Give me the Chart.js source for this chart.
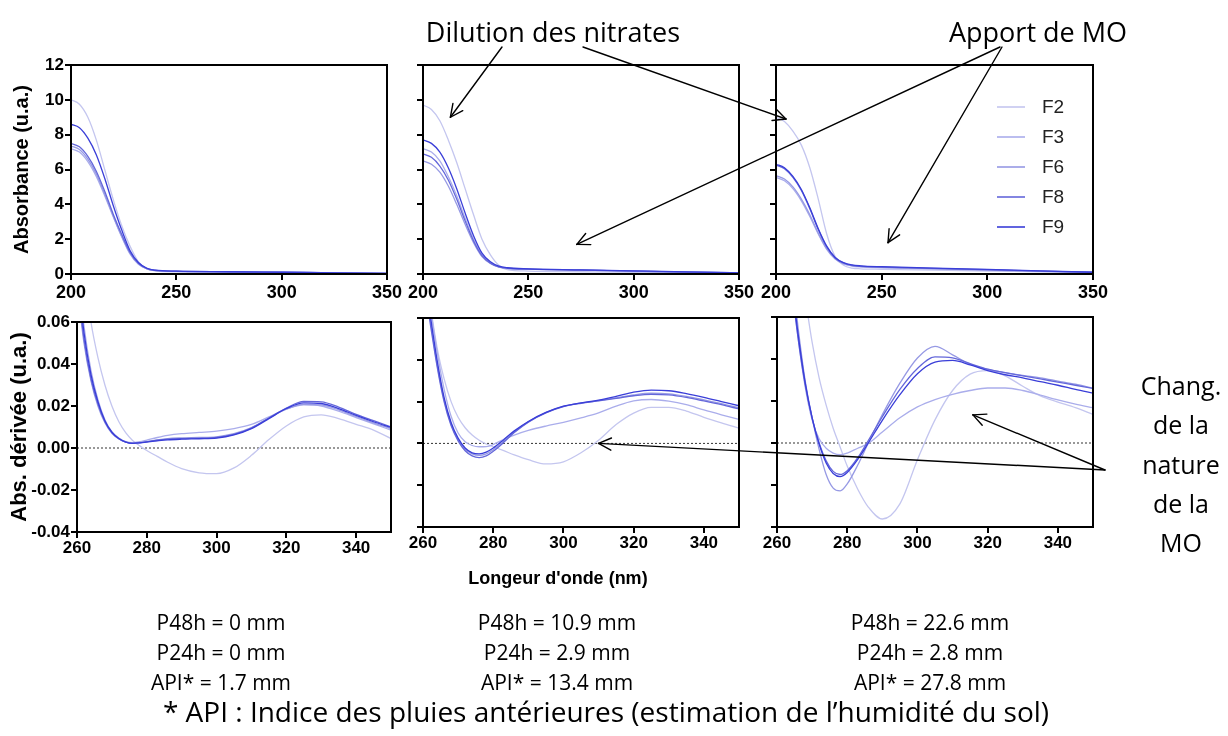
<!DOCTYPE html>
<html>
<head>
<meta charset="utf-8">
<script src="https://cdn.jsdelivr.net/npm/chart.js@4.4.1/dist/chart.umd.min.js"></script>
<style>
  html, body { margin: 0; padding: 0; background: #fff; }
  #page { position: relative; width: 1228px; height: 736px; overflow: hidden; background: #fff; }
  canvas { position: absolute; }
  #arrows { position: absolute; left: 0; top: 0; }
  .note { position: absolute; font-family: 'Open Sans', 'Noto Sans', sans-serif; color: #000;
          white-space: nowrap; transform: translate(-50%, -50%); line-height: 1; }
  .big { font-size: 27px; }
  .mid { font-size: 25px; }
  .foot { font-size: 28px; }
  .cond { font-size: 21px; }
  .axis { font-family: 'Liberation Sans', Arial, sans-serif; font-weight: bold; font-size: 18px; }
</style>
</head>
<body>
<div id="page">
  <canvas id="a1"></canvas>
  <canvas id="a2"></canvas>
  <canvas id="a3"></canvas>
  <canvas id="d1"></canvas>
  <canvas id="d2"></canvas>
  <canvas id="d3"></canvas>
  <svg id="arrows" width="1228" height="736"></svg>

  <div class="note big" style="left:553px; top:31px;">Dilution des nitrates</div>
  <div class="note big" style="left:1038px; top:31px;">Apport de MO</div>

  <div class="note mid" style="left:1181px; top:385px;">Chang.</div>
  <div class="note mid" style="left:1181px; top:424px;">de la</div>
  <div class="note mid" style="left:1181px; top:464px;">nature</div>
  <div class="note mid" style="left:1181px; top:503px;">de la</div>
  <div class="note mid" style="left:1181px; top:542px;">MO</div>

  <div class="note axis" style="left:558px; top:578px;">Longeur d'onde (nm)</div>

  <div class="note cond" style="left:221px; top:622px;">P48h = 0 mm</div>
  <div class="note cond" style="left:221px; top:652px;">P24h = 0 mm</div>
  <div class="note cond" style="left:221px; top:682px;">API* = 1.7 mm</div>
  <div class="note cond" style="left:557px; top:622px;">P48h = 10.9 mm</div>
  <div class="note cond" style="left:557px; top:652px;">P24h = 2.9 mm</div>
  <div class="note cond" style="left:557px; top:682px;">API* = 13.4 mm</div>
  <div class="note cond" style="left:930px; top:622px;">P48h = 22.6 mm</div>
  <div class="note cond" style="left:930px; top:652px;">P24h = 2.8 mm</div>
  <div class="note cond" style="left:930px; top:682px;">API* = 27.8 mm</div>

  <div class="note foot" style="left:606px; top:711px;">* API : Indice des pluies antérieures (estimation de l’humidité du sol)</div>
</div>

<script>
// ---------------------------------------------------------------------------
// Data
// ---------------------------------------------------------------------------
const SERIES = ['F2', 'F3', 'F6', 'F8', 'F9'];
const COLORS = ['#c4c6ef', '#aaadeb', '#9699e4', '#6467da', '#3a3ed8'];

// absorbance spectra, 200-350 nm
const WL_TOP = [200, 204, 208, 212, 216, 220, 224, 228, 232, 236, 240, 250, 275, 300, 325, 350];

const ABS1_F2 = [10.0, 9.75, 9.0, 7.7, 6.0, 4.3, 2.8, 1.6, 0.7, 0.3, 0.18, 0.12, 0.1, 0.08, 0.05, 0.03];
const ABS1_F3 = [7.2, 7.0, 6.45, 5.6, 4.5, 3.3, 2.15, 1.15, 0.56, 0.3, 0.19, 0.15, 0.12, 0.09, 0.06, 0.03];
const ABS1_F6 = [7.35, 7.15, 6.6, 5.75, 4.6, 3.35, 2.2, 1.2, 0.58, 0.3, 0.2, 0.15, 0.12, 0.09, 0.06, 0.03];
const ABS1_F8 = [7.5, 7.3, 6.75, 5.9, 4.75, 3.45, 2.3, 1.25, 0.62, 0.32, 0.21, 0.16, 0.13, 0.1, 0.07, 0.04];
const ABS1_F9 = [8.6, 8.4, 7.8, 6.85, 5.5, 3.95, 2.55, 1.35, 0.66, 0.33, 0.22, 0.16, 0.13, 0.1, 0.07, 0.04];

const ABS2_F2 = [9.7, 9.45, 8.8, 7.7, 6.4, 4.9, 3.4, 2.0, 1.1, 0.5, 0.25, 0.17, 0.13, 0.1, 0.07, 0.04];
const ABS2_F3 = [7.2, 7.0, 6.5, 5.6, 4.5, 3.2, 2.0, 1.1, 0.65, 0.42, 0.34, 0.29, 0.23, 0.17, 0.11, 0.06];
const ABS2_F6 = [6.5, 6.3, 5.85, 5.05, 4.0, 2.85, 1.8, 1.0, 0.6, 0.4, 0.32, 0.28, 0.22, 0.16, 0.1, 0.06];
const ABS2_F8 = [6.9, 6.7, 6.2, 5.4, 4.3, 3.05, 1.9, 1.05, 0.62, 0.41, 0.33, 0.28, 0.22, 0.17, 0.11, 0.06];
const ABS2_F9 = [7.7, 7.5, 7.0, 6.1, 4.9, 3.5, 2.2, 1.2, 0.7, 0.45, 0.36, 0.3, 0.24, 0.18, 0.12, 0.07];

const ABS3_F2 = [9.0, 8.75, 8.2, 7.4, 6.1, 4.3, 2.3, 1.0, 0.5, 0.34, 0.3, 0.27, 0.22, 0.17, 0.12, 0.07];
const ABS3_F3 = [5.55, 5.35, 4.9, 4.2, 3.3, 2.3, 1.42, 0.86, 0.58, 0.46, 0.41, 0.36, 0.29, 0.22, 0.15, 0.09];
const ABS3_F6 = [5.65, 5.45, 5.0, 4.3, 3.4, 2.35, 1.45, 0.88, 0.6, 0.48, 0.43, 0.38, 0.3, 0.23, 0.16, 0.09];
const ABS3_F8 = [6.25, 6.05, 5.55, 4.8, 3.75, 2.55, 1.55, 0.92, 0.63, 0.5, 0.45, 0.4, 0.32, 0.25, 0.17, 0.1];
const ABS3_F9 = [6.3, 6.1, 5.6, 4.85, 3.8, 2.6, 1.6, 0.95, 0.65, 0.52, 0.47, 0.42, 0.34, 0.26, 0.18, 0.1];

// derivative spectra, 260-350 nm
const WL_BOT = [260, 262, 264, 266, 268, 270, 272, 274, 276, 278, 280, 283, 286, 290, 295, 300, 305, 310, 315, 320, 325, 330, 335, 340, 345, 350];

const DER1_F2 = [0.12, 0.085, 0.06, 0.043, 0.03, 0.02, 0.0125, 0.0072, 0.0035, 0.001, -0.0012, -0.004, -0.0068, -0.0098, -0.0118, -0.0122, -0.0095, -0.0035, 0.004, 0.0105, 0.0148, 0.0158, 0.014, 0.0113, 0.0085, 0.0045];
const DER1_F3 = [0.09, 0.058, 0.037, 0.023, 0.0135, 0.0078, 0.0047, 0.003, 0.0025, 0.003, 0.0038, 0.005, 0.006, 0.0068, 0.0074, 0.008, 0.0092, 0.0112, 0.0148, 0.0185, 0.0205, 0.02, 0.0175, 0.0145, 0.0115, 0.0085];
const DER1_F6 = [0.078, 0.05, 0.032, 0.02, 0.012, 0.007, 0.0043, 0.0028, 0.0023, 0.0026, 0.0031, 0.0039, 0.0045, 0.0048, 0.005, 0.0053, 0.0068, 0.0097, 0.0142, 0.0185, 0.0208, 0.0205, 0.0182, 0.015, 0.012, 0.0092];
const DER1_F8 = [0.08, 0.052, 0.033, 0.021, 0.0125, 0.0073, 0.0044, 0.0028, 0.0022, 0.0025, 0.003, 0.0037, 0.0042, 0.0045, 0.0046, 0.005, 0.0065, 0.0095, 0.0143, 0.019, 0.0222, 0.022, 0.0195, 0.016, 0.013, 0.01];
const DER1_F9 = [0.085, 0.055, 0.035, 0.022, 0.013, 0.0075, 0.0045, 0.0028, 0.0022, 0.0024, 0.0028, 0.0034, 0.0039, 0.0042, 0.0044, 0.0047, 0.0062, 0.0092, 0.014, 0.0188, 0.0215, 0.0212, 0.0188, 0.0155, 0.0125, 0.0098];

const DER2_F2 = [0.1, 0.068, 0.046, 0.031, 0.02, 0.0125, 0.0075, 0.004, 0.0015, -0.0003, -0.0016, -0.0035, -0.0055, -0.0078, -0.0098, -0.0088, -0.0045, 0.0015, 0.009, 0.0145, 0.0172, 0.0172, 0.0155, 0.0125, 0.0098, 0.0073];
const DER2_F3 = [0.09, 0.066, 0.044, 0.026, 0.013, 0.005, 0.0008, -0.001, -0.0016, -0.0015, -0.0005, 0.002, 0.004, 0.0062, 0.0083, 0.0101, 0.0122, 0.0146, 0.0178, 0.0203, 0.021, 0.0202, 0.0185, 0.016, 0.0137, 0.0115];
const DER2_F6 = [0.082, 0.06, 0.038, 0.021, 0.0092, 0.0018, -0.0028, -0.005, -0.0057, -0.005, -0.003, 0.001, 0.0055, 0.0103, 0.0147, 0.0177, 0.0193, 0.0205, 0.0218, 0.0232, 0.024, 0.0237, 0.0225, 0.0208, 0.019, 0.017];
const DER2_F8 = [0.08, 0.058, 0.037, 0.02, 0.0085, 0.0012, -0.0035, -0.006, -0.0068, -0.006, -0.0038, 0.0005, 0.0052, 0.0102, 0.0146, 0.0176, 0.0192, 0.0203, 0.0215, 0.0228, 0.0235, 0.0232, 0.022, 0.0203, 0.0185, 0.0165];
const DER2_F9 = [0.085, 0.062, 0.04, 0.022, 0.01, 0.0025, -0.0022, -0.0045, -0.005, -0.0042, -0.0022, 0.0018, 0.006, 0.0105, 0.0148, 0.0178, 0.0194, 0.0207, 0.0225, 0.0245, 0.0255, 0.0252, 0.0238, 0.022, 0.02, 0.018];

const DER3_F2 = [0.2, 0.16, 0.125, 0.095, 0.07, 0.048, 0.031, 0.018, 0.007, -0.002, -0.011, -0.022, -0.0305, -0.0362, -0.029, -0.008, 0.011, 0.025, 0.0328, 0.0345, 0.032, 0.027, 0.0224, 0.0195, 0.0168, 0.0136];
const DER3_F3 = [0.16, 0.115, 0.08, 0.05, 0.027, 0.011, 0.002, -0.0025, -0.0048, -0.0056, -0.0048, -0.0025, -0.0002, 0.0052, 0.012, 0.0172, 0.0207, 0.0232, 0.025, 0.0262, 0.0262, 0.025, 0.0228, 0.0205, 0.0185, 0.0168];
const DER3_F6 = [0.16, 0.12, 0.085, 0.055, 0.03, 0.012, -0.003, -0.015, -0.0215, -0.0228, -0.0195, -0.0105, 0.0, 0.0135, 0.0285, 0.0405, 0.046, 0.042, 0.0375, 0.035, 0.0335, 0.0322, 0.031, 0.0295, 0.028, 0.026];
const DER3_F8 = [0.15, 0.11, 0.078, 0.05, 0.028, 0.012, 0.0, -0.0085, -0.0135, -0.015, -0.0132, -0.007, 0.0012, 0.0125, 0.0255, 0.0355, 0.041, 0.0405, 0.0378, 0.0352, 0.0335, 0.032, 0.0305, 0.029, 0.0275, 0.026];
const DER3_F9 = [0.15, 0.112, 0.08, 0.052, 0.029, 0.012, -0.0005, -0.0095, -0.0145, -0.016, -0.014, -0.0078, 0.0, 0.0108, 0.023, 0.033, 0.0385, 0.0393, 0.0372, 0.0345, 0.0325, 0.031, 0.0292, 0.0275, 0.0255, 0.0237];

// arrows: tail in page pixels, head in data coords of a panel
const ARROWS = [
  { tail: [502, 47], panel: 'a2', at: [213, 9.0] },
  { tail: [583, 47], panel: 'a3', at: [204.7, 8.9] },
  { tail: [1000, 47], panel: 'a2', at: [273, 1.7] },
  { tail: [1002, 47], panel: 'a3', at: [253, 1.8] },
  { tail: [1105, 470], panel: 'd3', at: [315.8, 0.0134] },
  { tail: [1105, 470], panel: 'd2', at: [310, 0.0] }
];

// ---------------------------------------------------------------------------
// Panels
// ---------------------------------------------------------------------------
const AXIS_FONT = "'Liberation Sans', Arial, sans-serif";
const PAD_L = 71, PAD_T = 12, PAD_R = 24;

const framePlugin = {
  id: 'frame',
  afterDatasetsDraw(chart) {
    const { ctx, chartArea: a } = chart;
    ctx.save();
    ctx.strokeStyle = '#000';
    ctx.lineWidth = 2;
    ctx.strokeRect(a.left, a.top, a.right - a.left, a.bottom - a.top);
    ctx.restore();
  }
};

const legendPlugin = {
  id: 'insideLegend',
  afterDraw(chart) {
    const { ctx, chartArea: a } = chart;
    ctx.save();
    ctx.font = '19px ' + AXIS_FONT;
    ctx.textBaseline = 'middle';
    ctx.fillStyle = '#222';
    SERIES.forEach((name, i) => {
      const y = a.top + 42 + i * 30;
      ctx.strokeStyle = COLORS[i];
      ctx.lineWidth = 1.6;
      ctx.beginPath();
      ctx.moveTo(a.left + 221, y);
      ctx.lineTo(a.left + 249, y);
      ctx.stroke();
      ctx.fillText(name, a.left + 266, y + 1);
    });
    ctx.restore();
  }
};

function makePanel(id, box, wl, series, o) {
  const cv = document.getElementById(id);
  cv.width = box.r - box.l + PAD_L + PAD_R;
  cv.height = box.b - box.t + PAD_T + o.axisH;
  cv.style.left = (box.l - PAD_L) + 'px';
  cv.style.top = (box.t - PAD_T) + 'px';

  const datasets = series.map((vals, i) => ({
    label: SERIES[i],
    data: wl.map((x, j) => ({ x: x, y: vals[j] })),
    borderColor: COLORS[i],
    borderWidth: 1.3,
    pointRadius: 0,
    fill: false,
    cubicInterpolationMode: 'monotone',
    order: 5 - i
  }));
  if (o.zeroLine) {
    datasets.push({
      label: 'zero',
      data: [{ x: wl[0], y: 0 }, { x: wl[wl.length - 1], y: 0 }],
      borderColor: '#333',
      borderWidth: 1,
      borderDash: [2, 2],
      pointRadius: 0,
      order: 10
    });
  }

  const tickGrid = { display: true, drawOnChartArea: false, drawTicks: true, tickLength: 6, lineWidth: 2, color: '#000' };

  return new Chart(cv, {
    type: 'line',
    data: { datasets: datasets },
    options: {
      responsive: false,
      animation: false,
      devicePixelRatio: 1,
      events: [],
      layout: { padding: { left: 0, top: PAD_T, right: PAD_R, bottom: 0 } },
      plugins: { legend: { display: false }, tooltip: { enabled: false } },
      scales: {
        x: {
          type: 'linear', min: o.xMin, max: o.xMax,
          border: { display: false },
          grid: tickGrid,
          ticks: {
            stepSize: o.xStep, includeBounds: false, autoSkip: false, maxRotation: 0,
            color: '#000', padding: o.xPad,
            font: { family: AXIS_FONT, weight: 'bold', size: o.xFont },
            callback: v => String(v)
          },
          afterFit: s => { s.height = o.axisH; }
        },
        y: {
          type: 'linear', min: o.yMin, max: o.yMax,
          border: { display: false },
          grid: tickGrid,
          ticks: {
            display: o.yLabels, stepSize: o.yStep, includeBounds: false,
            color: '#000', padding: 1,
            font: { family: AXIS_FONT, weight: 'bold', size: o.yFont },
            callback: o.yFmt
          },
          title: {
            display: !!o.yTitle, text: o.yTitle || '', color: '#000',
            font: { family: AXIS_FONT, weight: 'bold', size: o.yTitleSize },
            padding: { top: o.yTitlePad, bottom: 0 }
          },
          afterFit: s => { s.width = PAD_L; }
        }
      }
    },
    plugins: o.legend ? [framePlugin, legendPlugin] : [framePlugin]
  });
}

const topOpts = {
  axisH: 45, xMin: 200, xMax: 350, xStep: 50, xPad: 2, xFont: 18,
  yMin: 0, yMax: 12, yStep: 2, yFont: 17, yFmt: v => String(Math.round(v)),
  yTitleSize: 20, yTitlePad: 10
};
const botOpts = {
  axisH: 45, xMin: 260, xMax: 350, xStep: 20, xPad: 0, xFont: 17,
  yMin: -0.04, yMax: 0.06, yStep: 0.02, yFont: 17,
  yFmt: v => (Math.abs(v) < 1e-9 ? '0.00' : v.toFixed(2)),
  yTitleSize: 22, yTitlePad: 1, zeroLine: true
};

const charts = {};
charts.a1 = makePanel('a1', { l: 71, t: 65, r: 387, b: 274 }, WL_TOP,
  [ABS1_F2, ABS1_F3, ABS1_F6, ABS1_F8, ABS1_F9],
  Object.assign({}, topOpts, { yLabels: true, yTitle: 'Absorbance (u.a.)' }));
charts.a2 = makePanel('a2', { l: 423, t: 65, r: 739, b: 274 }, WL_TOP,
  [ABS2_F2, ABS2_F3, ABS2_F6, ABS2_F8, ABS2_F9],
  Object.assign({}, topOpts, { yLabels: false }));
charts.a3 = makePanel('a3', { l: 776, t: 65, r: 1093, b: 274 }, WL_TOP,
  [ABS3_F2, ABS3_F3, ABS3_F6, ABS3_F8, ABS3_F9],
  Object.assign({}, topOpts, { yLabels: false, legend: true }));
charts.d1 = makePanel('d1', { l: 77, t: 322, r: 391, b: 532 }, WL_BOT,
  [DER1_F2, DER1_F3, DER1_F6, DER1_F8, DER1_F9],
  Object.assign({}, botOpts, { yLabels: true, yTitle: 'Abs. dérivée (u.a.)' }));
charts.d2 = makePanel('d2', { l: 423, t: 318, r: 739, b: 527 }, WL_BOT,
  [DER2_F2, DER2_F3, DER2_F6, DER2_F8, DER2_F9],
  Object.assign({}, botOpts, { yLabels: false }));
charts.d3 = makePanel('d3', { l: 777, t: 317, r: 1093, b: 527 }, WL_BOT,
  [DER3_F2, DER3_F3, DER3_F6, DER3_F8, DER3_F9],
  Object.assign({}, botOpts, { yLabels: false }));

// ---------------------------------------------------------------------------
// Annotation arrows (heads located through each panel's scales)
// ---------------------------------------------------------------------------
const svg = document.getElementById('arrows');
const NS = 'http://www.w3.org/2000/svg';

function line(x1, y1, x2, y2) {
  const l = document.createElementNS(NS, 'line');
  l.setAttribute('x1', x1); l.setAttribute('y1', y1);
  l.setAttribute('x2', x2); l.setAttribute('y2', y2);
  l.setAttribute('stroke', '#000');
  l.setAttribute('stroke-width', '1.4');
  l.setAttribute('stroke-linecap', 'round');
  svg.appendChild(l);
}

ARROWS.forEach(a => {
  const ch = charts[a.panel];
  const cv = ch.canvas;
  const hx = parseFloat(cv.style.left) + ch.scales.x.getPixelForValue(a.at[0]);
  const hy = parseFloat(cv.style.top) + ch.scales.y.getPixelForValue(a.at[1]);
  const [tx, ty] = a.tail;
  line(tx, ty, hx, hy);
  const ang = Math.atan2(ty - hy, tx - hx);
  const len = 14, spread = 0.45;
  line(hx, hy, hx + len * Math.cos(ang + spread), hy + len * Math.sin(ang + spread));
  line(hx, hy, hx + len * Math.cos(ang - spread), hy + len * Math.sin(ang - spread));
});
</script>
</body>
</html>
